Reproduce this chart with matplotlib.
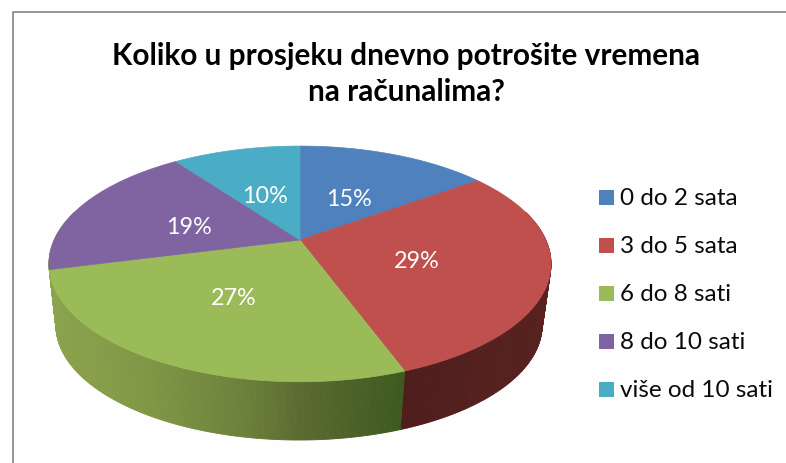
import numpy as np
import matplotlib
matplotlib.use("Agg")
import matplotlib.pyplot as plt
from matplotlib.patches import Rectangle

plt.rcParams["font.family"] = ["Lato", "DejaVu Sans"]

title_lines = ["Koliko u prosjeku dnevno potrošite vremena", "na računalima?"]
categories = ["0 do 2 sata", "3 do 5 sata", "6 do 8 sati", "8 do 10 sati", "više od 10 sati"]
shares = [15.0, 29.4, 26.6, 19.0, 10.0]
colors = ["#4F81BD", "#C0504D", "#9BBB59", "#8064A2", "#4BACC6"]

# pixel positions of the percent labels, one per slice
label_x = [349, 417, 234, 189, 265]
label_y = [199.5, 261.5, 298.5, 227.5, 196.5]

# side wall shade by screen x, the wall gets darker towards the right
side_stops = {
    2: ([50, 150, 250, 300, 400], ["#8CA34D", "#7F9645", "#6A7F39", "#5B6B30", "#3F5A20"]),
    1: ([400, 545], ["#4E1D1B", "#572220"]),
    3: ([40, 60], ["#8CA34D", "#8CA34D"]),
}

PERSP = 0.203


def project(deg, cx, cy, rx, ry):
    # clockwise degrees from 12 o'clock, far side of the pie comes out smaller
    t = np.radians(deg)
    d = 1 + PERSP * np.cos(t)
    return cx + rx * np.sin(t) / d, cy - ry * np.cos(t) / d


def top_rim(deg):
    return project(deg, 300, 241, 245.8, 113)


def bottom_rim(deg):
    return project(deg, 299, 303, 238, 110)


def shade(i, x):
    xs, cols = side_stops[i]
    rgb = np.array([matplotlib.colors.to_rgb(c) for c in cols])
    return [np.interp(x, xs, rgb[:, k]) for k in range(3)]


fig = plt.figure(figsize=(7.86, 4.64), dpi=100, facecolor="#FEFEFE")
ax = fig.add_axes([0, 0, 1, 1])
ax.set_xlim(0, 786)
ax.set_ylim(464, 0)
ax.axis("off")

# chart frame, open on the right and at the bottom
ax.plot([12.5, 12.5, 786], [464, 12.5, 12.5], color="#8C8C8C", lw=1.3, solid_capstyle="butt")

ax.text(406, 56, title_lines[0], ha="center", va="center", fontsize=21.4, fontweight="bold", color="#000000")
ax.text(406, 92, title_lines[1], ha="center", va="center", fontsize=21.4, fontweight="bold", color="#000000")

edges = np.concatenate([[0], np.cumsum(shares)]) * 3.6

# side wall first, the top face is painted over it
for i in (1, 2, 3):
    start, stop = max(edges[i], 75), min(edges[i + 1], 285)
    if stop <= start:
        continue
    steps = np.linspace(start, stop, int((stop - start) * 2) + 2)
    for a, b in zip(steps[:-1], steps[1:]):
        x0, y0 = top_rim(a)
        x1, y1 = top_rim(b)
        x2, y2 = bottom_rim(b)
        x3, y3 = bottom_rim(a)
        c = shade(i, (x0 + x1) / 2)
        ax.fill([x0, x1, x2, x3], [y0, y1, y2, y3], color=c, lw=0.6)

for i, col in enumerate(colors):
    angles = np.linspace(edges[i], edges[i + 1], 120)
    xs, ys = top_rim(angles)
    ax.fill(np.r_[300, xs], np.r_[241, ys], facecolor=col, edgecolor=col, lw=0.5)
    ax.text(label_x[i], label_y[i], f"{shares[i]:.0f}%", ha="center", va="center", fontsize=16.8, color="white")

for i, name in enumerate(categories):
    y = 198 + 48 * i
    ax.add_patch(Rectangle((599, y - 7.5), 15, 15, facecolor=colors[i], edgecolor="none"))
    ax.text(620, y + 1, name, ha="left", va="center", fontsize=17.5, color="#0A0A0A")

fig.savefig("out.png", dpi=100, facecolor=fig.get_facecolor())
